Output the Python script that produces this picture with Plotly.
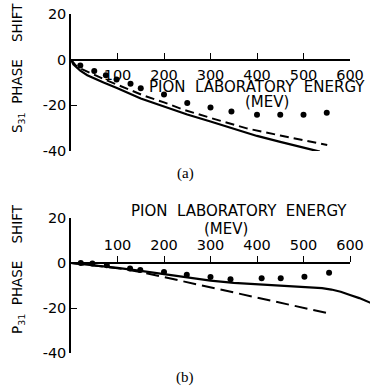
import plotly.graph_objects as go

# ---------------- data ----------------
# (a) S31
s31_dot_E = [20, 50, 75, 98, 128, 150, 200, 250, 300, 345, 400, 450, 500, 550]
s31_dot_ph = [-2.6, -5, -6.8, -8.7, -10.6, -12.5, -15.3, -19, -21, -22.7, -24.1, -24.1, -24.1, -23.2]
s31_solid_E = [0, 5, 10, 20, 35, 50, 70, 100, 150, 200, 250, 300, 350, 400, 450, 500, 535]
s31_solid_ph = [0, -2, -3, -4.8, -6.8, -8.2, -10, -12.5, -17, -20.5, -24, -27.1, -30.4, -33.4, -36, -38.6, -40.3]
s31_dash_E = [0, 5, 10, 20, 35, 50, 70, 100, 156, 200, 242, 300, 378, 450, 500, 551]
s31_dash_ph = [0, -1.5, -2.5, -3.8, -5.3, -6.5, -8.5, -11, -15.7, -18.7, -21.9, -25.5, -30.1, -33.2, -35.3, -37.4]

# (b) P31
p31_dot_E = [21, 46, 77, 127, 149, 200, 249, 300, 343, 410, 451, 502, 555]
p31_dot_ph = [0, -0.2, -1, -2.4, -3.1, -4, -5.2, -6.2, -7.2, -6.8, -6.8, -6.1, -4.3]
p31_solid_E = [0, 50, 100, 150, 200, 250, 300, 350, 400, 450, 500, 540, 560, 580, 600, 620, 643, 655]
p31_solid_ph = [0, -1, -2.2, -3.5, -5, -6.6, -7.8, -8.8, -9.4, -10, -10.6, -11.2, -11.8, -12.8, -14.2, -15.6, -17.6, -18.6]
p31_dash_E = [0, 50, 100, 150, 200, 250, 300, 350, 400, 450, 500, 550]
p31_dash_ph = [0, -1, -2.3, -4, -6.3, -8.6, -10.9, -13.2, -15.5, -17.8, -20, -22.2]

x_ticks = [100, 200, 300, 400, 500, 600]
x_ticktext = ["100", "200", "300", "400", "500", "600"]
y_ticks = [20, 0, -20, -40]
y_ticktext = ["20", "0", "-20", "-40"]

# ---------------- layout geometry ----------------
W, H = 370, 388
def fx(px):
    return px / W
def fy(py):
    return 1 - py / H

X0, X600 = 71, 350
XD = [fx(X0), fx(X600)]
XD_data = [fx(X0), 1.0]
X_RANGE_DATA = [0, 600 * (W - X0) / (X600 - X0)]

YA = [fy(151), fy(14)]
YB = [fy(353), fy(218)]
def zero_pos(dom):
    return dom[0] + (0 - (-40)) / 60 * (dom[1] - dom[0])

FONT = "DejaVu Sans"
BLACK = "black"

fig = go.Figure()

# (a) traces
fig.add_trace(go.Scatter(x=s31_solid_E, y=s31_solid_ph, mode="lines",
                         line=dict(color=BLACK, width=2.2), xaxis="x3", yaxis="y"))
fig.add_trace(go.Scatter(x=s31_dash_E, y=s31_dash_ph, mode="lines",
                         line=dict(color=BLACK, width=2, dash="9px,5px"), xaxis="x3", yaxis="y"))
fig.add_trace(go.Scatter(x=s31_dot_E, y=s31_dot_ph, mode="markers",
                         marker=dict(color=BLACK, size=6), cliponaxis=False, xaxis="x", yaxis="y"))
# (b) traces
fig.add_trace(go.Scatter(x=p31_solid_E, y=p31_solid_ph, mode="lines",
                         line=dict(color=BLACK, width=2.2), xaxis="x4", yaxis="y2"))
fig.add_trace(go.Scatter(x=p31_dash_E, y=p31_dash_ph, mode="lines",
                         line=dict(color=BLACK, width=2, dash="13px,6px"), xaxis="x4", yaxis="y2"))
fig.add_trace(go.Scatter(x=p31_dot_E, y=p31_dot_ph, mode="markers",
                         marker=dict(color=BLACK, size=6), cliponaxis=False, xaxis="x2", yaxis="y2"))

tickfont = dict(family=FONT, size=14.5, color=BLACK)
common_x = dict(range=[0, 600], domain=XD, anchor="free", tickvals=x_ticks, ticktext=x_ticktext,
                showline=True, linecolor=BLACK, linewidth=1.5, ticklen=6, tickwidth=1.3,
                tickcolor=BLACK, showgrid=False, zeroline=False, tickfont=tickfont,
                automargin=False)
common_y = dict(range=[-40, 20], tickvals=y_ticks, ticktext=y_ticktext, showline=True,
                linecolor=BLACK, linewidth=1.5, ticks="inside", ticklen=6, tickwidth=1.3,
                tickcolor=BLACK, showgrid=False, zeroline=False, tickfont=tickfont,
                automargin=False)
hidden_x = dict(range=X_RANGE_DATA, domain=XD_data, visible=False, showgrid=False,
                zeroline=False, automargin=False)

fig.update_layout(
    width=W, height=H, margin=dict(l=0, r=0, t=0, b=0, autoexpand=False),
    paper_bgcolor="white", plot_bgcolor="rgba(0,0,0,0)", showlegend=False,
    xaxis=dict(common_x, position=zero_pos(YA), side="bottom", ticks="inside",
               ticklabelstandoff=2),
    yaxis=dict(common_y, domain=YA, anchor="x"),
    xaxis2=dict(common_x, position=zero_pos(YB), side="top", ticks="outside"),
    yaxis2=dict(common_y, domain=YB, anchor="x2"),
    xaxis3=dict(hidden_x, anchor="y"),
    xaxis4=dict(hidden_x, anchor="y2"),
)

NB = "\u00a0"
title_font = dict(family=FONT, size=15, color=BLACK)
ytitle_font = dict(family=FONT, size=13.5, color=BLACK)
serif_font = dict(family="Liberation Serif", size=15, color=BLACK)

def ann(text, px, py, font, angle=0):
    fig.add_annotation(text=text, x=fx(px), y=fy(py), xref="paper", yref="paper",
                       showarrow=False, font=font, textangle=angle,
                       xanchor="center", yanchor="middle")

energy = "PION" + NB * 2 + "LABORATORY" + NB * 2 + "ENERGY"
ann(energy, 257, 87, title_font)
ann("(MEV)", 267, 102, title_font)
ann(energy, 239, 211, title_font)
ann("(MEV)", 226, 229, title_font)

ann("S<sub>31</sub>" + NB * 2 + "PHASE" + NB * 4 + "SHIFT", 18, 68, ytitle_font, -90)
ann("P<sub>31</sub>" + NB * 2 + "PHASE" + NB * 4 + "SHIFT", 18, 269, ytitle_font, -90)

ann("(a)", 185, 174, serif_font)
ann("(b)", 185, 377, serif_font)

fig.write_html("out.html")
